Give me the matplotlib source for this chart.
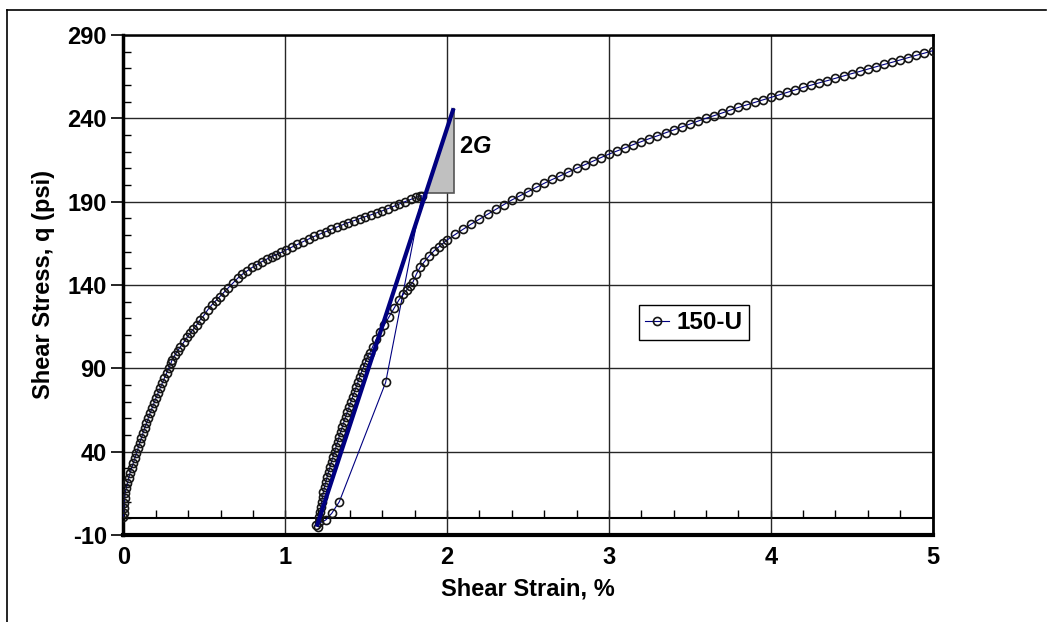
# Shear stress vs shear strain, sample 150-U

import numpy as np
import matplotlib
matplotlib.use('Agg')
import matplotlib.pyplot as plt
from matplotlib.lines import Line2D
from matplotlib import transforms

matplotlib.rcParams['font.family'] = 'Liberation Sans'
matplotlib.rcParams['font.weight'] = 'bold'
matplotlib.rcParams['axes.unicode_minus'] = False

# first loading
strain_load = [0.000, 0.001, 0.003, 0.005, 0.007, 0.010, 0.017, 0.024, 0.032, 0.040,
               0.050, 0.060, 0.070, 0.080, 0.090, 0.100, 0.110, 0.120, 0.131, 0.142,
               0.153, 0.164, 0.176, 0.188, 0.200, 0.213, 0.226, 0.239, 0.252, 0.266,
               0.280, 0.293, 0.300,
               0.318, 0.335, 0.352, 0.372, 0.392, 0.412, 0.432, 0.452, 0.473, 0.495,
               0.520, 0.545, 0.570, 0.595, 0.620, 0.645, 0.675, 0.705,
               0.735, 0.765, 0.795, 0.825, 0.855, 0.885, 0.915, 0.945, 0.975,
               1.005, 1.040, 1.075, 1.110, 1.145, 1.180,
               1.215, 1.250, 1.285, 1.320, 1.355, 1.390,
               1.425, 1.460, 1.495, 1.530, 1.565, 1.600,
               1.635, 1.670, 1.705, 1.740, 1.775, 1.805, 1.830, 1.845]
stress_load = [0.5, 3, 6, 9, 12, 15, 18, 21, 24, 27,
               30, 33, 36, 39, 42, 45, 48, 51, 54, 57,
               60, 63, 66, 69, 72, 75, 78, 81, 84, 87,
               90, 93, 95,
               98, 100.5, 103, 105.5, 108.5, 111, 113.5, 116, 119, 121.5,
               125, 128, 130.5, 133, 135.5, 138, 141, 144,
               146.5, 148.5, 150.5, 152.2, 154, 155.5, 157, 158.2, 159.5,
               161, 162.7, 164.3, 166, 167.6, 169.2,
               170.6, 172, 173.4, 174.8, 176.1, 177.4,
               178.6, 179.8, 181, 182.1, 183.3, 184.5,
               185.8, 187.2, 188.6, 190, 191.3, 192.5, 193.3, 193.6]

# unloading
strain_unload = [1.620, 1.334, 1.287, 1.250, 1.190]
stress_unload = [81.5, 10, 3, -1, -4]

# reloading
strain_reload = [1.205, 1.208, 1.211, 1.215, 1.220, 1.225, 1.230, 1.236, 1.243, 1.251,
                 1.259, 1.268, 1.277, 1.286, 1.295, 1.305, 1.314, 1.324, 1.333, 1.343,
                 1.353, 1.363, 1.373, 1.384, 1.395, 1.406, 1.417, 1.428, 1.439, 1.450,
                 1.461, 1.472, 1.484, 1.496, 1.508, 1.522,
                 1.540, 1.562, 1.585, 1.612, 1.642, 1.672, 1.702, 1.728, 1.750, 1.770,
                 1.790, 1.810, 1.835, 1.860, 1.890, 1.920, 1.950, 1.975]
stress_reload = [-5, -2, 1, 4, 7, 10, 13, 16, 19, 22,
                 25, 28, 31, 34, 37, 40, 43, 46, 49, 52,
                 55, 58, 61, 64, 67, 70, 73, 76, 79, 82,
                 85, 88, 91, 94, 97, 99,
                 103, 107.5, 111.5, 116, 121, 126, 131, 134.5, 137, 139.5,
                 142, 146.5, 151, 154, 157.5, 160.5, 163, 165]

strain_upper = [2.00, 2.05, 2.10, 2.15, 2.20, 2.25, 2.30, 2.35, 2.40, 2.45,
                2.50, 2.55, 2.60, 2.65, 2.70, 2.75, 2.80, 2.85, 2.90, 2.95,
                3.00, 3.05, 3.10, 3.15, 3.20, 3.25, 3.30, 3.35, 3.40, 3.45,
                3.50, 3.55, 3.60, 3.65, 3.70, 3.75, 3.80, 3.85, 3.90, 3.95,
                4.00, 4.05, 4.10, 4.15, 4.20, 4.25, 4.30, 4.35, 4.40, 4.45,
                4.50, 4.55, 4.60, 4.65, 4.70, 4.75, 4.80, 4.85, 4.90, 4.95, 5.00]
stress_upper = [167, 170.3, 173.5, 176.6, 179.5, 182.4, 185.3, 188.2, 191, 193.5,
                196, 198.5, 201, 203.3, 205.5, 207.8, 210, 212.1, 214.2, 216.4,
                218.5, 220.4, 222.3, 224.2, 226, 227.8, 229.5, 231.3, 233, 234.8,
                236.5, 238.3, 240, 241.6, 243.2, 244.9, 246.5, 248, 249.5, 251,
                252.5, 254, 255.5, 257, 258.5, 259.9, 261.3, 262.6, 264, 265.4,
                266.8, 268.1, 269.5, 270.9, 272.3, 273.6, 275, 276.4, 277.8, 279.1, 280.5]

# 2G slope line and triangle
tan_x = [1.194, 2.04]
tan_y = [-5, 246]
tri_x = [1.868, 2.04, 2.04]
tri_y = [195.2, 195.2, 246]

y_ticks = [-10, 40, 90, 140, 190, 240, 290]
x_ticks = [0, 1, 2, 3, 4, 5]

strain = strain_load + strain_unload + strain_reload + strain_upper
stress = stress_load + stress_unload + stress_reload + stress_upper

fig = plt.figure(figsize=(10.51, 6.22), dpi=100)
ax = fig.add_axes([0.1175, 0.1399, 0.7698, 0.8039])

ax.plot(strain, stress, '-o', color='#000080', linewidth=0.8, markersize=5.8,
        markerfacecolor='none', markeredgecolor='#151515', markeredgewidth=1.2,
        label='150-U', zorder=4)
ax.fill(tri_x, tri_y, facecolor='#c0c0c0', edgecolor='#555555', linewidth=1.2, zorder=3)
ax.plot(tan_x, tan_y, color='#000080', linewidth=3, solid_capstyle='butt', zorder=5)

ax.text(2.074, 222.8, '2', fontsize=17, fontweight='bold', va='center', ha='left')
g_trans = transforms.offset_copy(ax.transData, fig=fig, x=13.5, y=0, units='dots')
ax.text(2.074, 222.8, 'G', fontsize=17, fontweight='bold', fontstyle='italic',
        va='center', ha='left', transform=g_trans)

ax.set_xlim(0, 5)
ax.set_ylim(-10, 290)
ax.set_xticks(x_ticks)
ax.set_yticks(y_ticks)
ax.set_yticks(np.arange(-10, 291, 10), minor=True)
ax.tick_params(axis='y', which='major', direction='out', length=9, width=1.2,
               labelsize=17, pad=3)
ax.tick_params(axis='y', which='minor', direction='in', length=6, width=1)
ax.tick_params(axis='x', which='major', length=0, labelsize=17, pad=8)
ax.grid(True, which='major', color='#262626', linewidth=1)
ax.set_axisbelow(True)

ax.spines['left'].set_linewidth(2.5)
ax.spines['bottom'].set_linewidth(3)
ax.spines['right'].set_linewidth(2)
ax.spines['top'].set_linewidth(1.8)

# x axis crossing at zero with minor ticks
sec = ax.secondary_xaxis(10 / 300)
sec.set_xticks([])
sec.set_xticks(np.arange(0, 5.01, 0.2), minor=True)
sec.tick_params(which='minor', direction='in', length=6, width=1, labelbottom=False)
sec.tick_params(which='major', length=0, labelbottom=False)
sec.spines['bottom'].set_linewidth(1.5)

ax.set_xlabel('Shear Strain, %', fontsize=17, fontweight='bold', va='center')
ax.xaxis.set_label_coords(0.5, -0.108)
ax.set_ylabel('Shear Stress, q (psi)', fontsize=17, fontweight='bold', va='center')
ax.yaxis.set_label_coords(-0.099, 0.5)

leg = ax.legend(loc='upper left', bbox_to_anchor=(0.637, 0.46), fontsize=17.5,
                fancybox=False, edgecolor='black', framealpha=1, borderpad=0.25,
                handlelength=1.0, handletextpad=0.3, borderaxespad=0)
leg.get_frame().set_linewidth(1)

fig.add_artist(Line2D([0.007, 0.007], [0, 0.984], transform=fig.transFigure,
                      color='black', linewidth=1.2))
fig.add_artist(Line2D([0.007, 0.995], [0.984, 0.984], transform=fig.transFigure,
                      color='black', linewidth=1.2))

plt.savefig('out.png', dpi=100)
